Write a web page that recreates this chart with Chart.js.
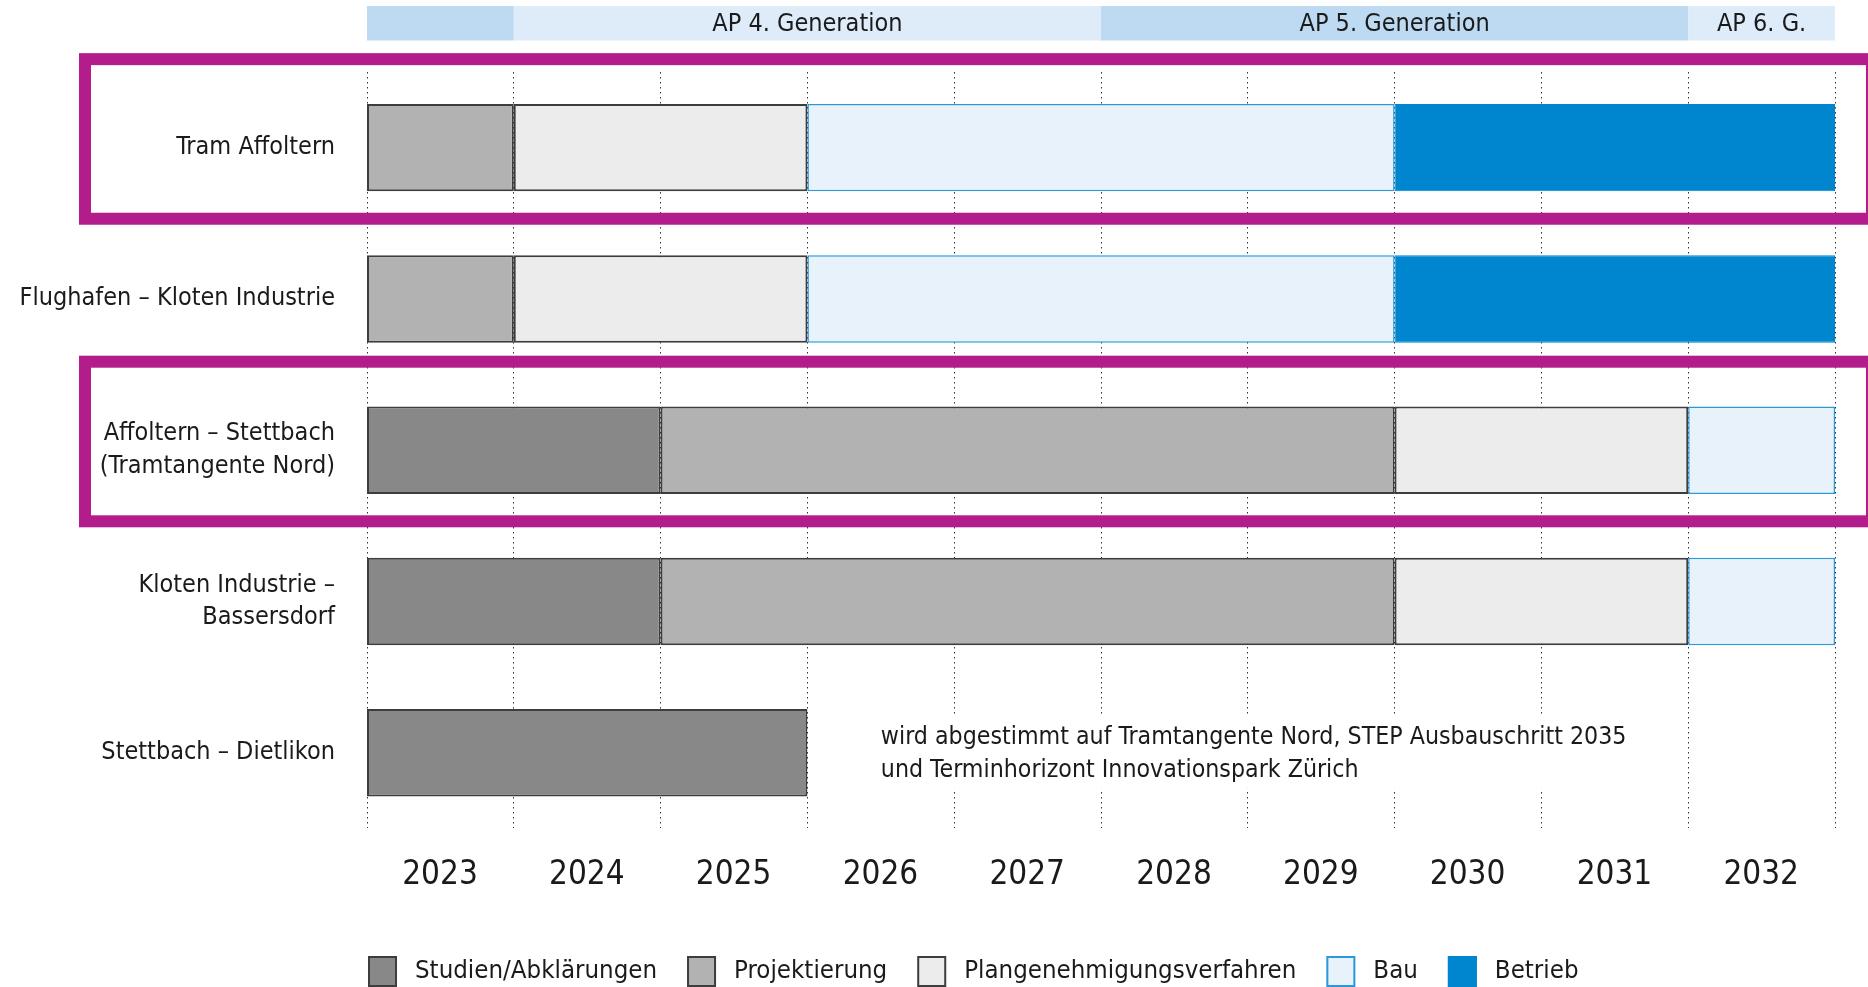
<!DOCTYPE html>
<html>
<head>
<meta charset="utf-8">
<script src="https://cdn.jsdelivr.net/npm/chart.js@4.4.1/dist/chart.umd.min.js"></script>
<style>
  html, body { margin: 0; padding: 0; background: #fff; }
  #chart { display: block; }
</style>
</head>
<body>
<canvas id="chart" width="1868" height="987"></canvas>
<script>
const FONT = '"Liberation Sans Narrow", "DejaVu Sans Condensed", "Open Sans", sans-serif';

// rows, top to bottom
const categories = [
  'Tram Affoltern',
  'Flughafen – Kloten Industrie',
  ['Affoltern – Stettbach', '(Tramtangente Nord)'],
  ['Kloten Industrie –', 'Bassersdorf'],
  'Stettbach – Dietlikon'
];

// [start year, end year] per row
const studien         = [null, null, [2023, 2025], [2023, 2025], [2023, 2026]];
const projektierung   = [[2023, 2024], [2023, 2024], [2025, 2030], [2025, 2030], null];
const plangenehmigung = [[2024, 2026], [2024, 2026], [2030, 2032], [2030, 2032], null];
const bau             = [[2026, 2030], [2026, 2030], [2032, 2033], [2032, 2033], null];
const betrieb         = [[2030, 2033], [2030, 2033], null, null, null];

const phaseLabels = ['Studien/Abklärungen', 'Projektierung', 'Plangenehmigungsverfahren', 'Bau', 'Betrieb'];
const yearLabels = ['2023', '2024', '2025', '2026', '2027', '2028', '2029', '2030', '2031', '2032'];

// Agglomerationsprogramm band on top
const apLabels = ['', 'AP 4. Generation', 'AP 5. Generation', 'AP 6. G.'];
const apStart = [2023, 2024, 2028, 2032];
const apEnd = [2024, 2028, 2032, 2033];

const highlighted = [0, 2];

const noteLines = ['wird abgestimmt auf Tramtangente Nord, STEP Ausbauschritt 2035', 'und Terminhorizont Innovationspark Zürich'];
const noteRow = 4;
const noteYear = 2026.5;

const apBand = {
  id: 'apBand',
  beforeDraw(chart) {
    const ctx = chart.ctx, x = chart.scales.x;
    ctx.save();
    apStart.forEach((s, i) => {
      const x0 = x.getPixelForValue(s), x1 = x.getPixelForValue(apEnd[i]);
      ctx.fillStyle = i % 2 ? '#deecf9' : '#bddaf2';
      ctx.fillRect(x0, 6, x1 - x0, 34.5);
      if (apLabels[i]) {
        ctx.fillStyle = '#1a1a1a';
        ctx.font = '25px ' + FONT;
        ctx.textAlign = 'center';
        ctx.textBaseline = 'middle';
        ctx.fillText(apLabels[i], (x0 + x1) / 2, 24);
      }
    });
    ctx.restore();
  }
};

const extras = {
  id: 'extras',
  afterDatasetsDraw(chart) {
    const ctx = chart.ctx, x = chart.scales.x, y = chart.scales.y;
    ctx.save();

    // note with white backing over the grid
    ctx.font = '24.7px ' + FONT;
    const tx = x.getPixelForValue(noteYear), ty = y.getPixelForValue(noteRow);
    const w = Math.max(...noteLines.map(t => ctx.measureText(t).width));
    ctx.fillStyle = '#fff';
    ctx.fillRect(tx - 15, ty - 38, w + 30, 74);
    ctx.fillStyle = '#1a1a1a';
    ctx.textAlign = 'left';
    ctx.textBaseline = 'middle';
    ctx.fillText(noteLines[0], tx, ty - 15);
    ctx.fillText(noteLines[1], tx, ty + 18);

    // magenta frames
    const step = y.getPixelForValue(1) - y.getPixelForValue(0);
    ctx.strokeStyle = '#b31d8b';
    ctx.lineWidth = 12;
    highlighted.forEach(i => {
      const c = y.getPixelForValue(i);
      const top = c - 0.585 * step, bottom = c + 0.47 * step;
      ctx.strokeRect(85, top, chart.width - 85 + 4, bottom - top);
    });
    ctx.restore();
  },
  afterDraw(chart) {
    // legend
    const ctx = chart.ctx;
    ctx.save();
    ctx.font = '25.6px ' + FONT;
    ctx.textBaseline = 'middle';
    ctx.textAlign = 'left';
    let cx = chart.chartArea.left + 1;
    const cy = 971;
    chart.data.datasets.forEach(ds => {
      ctx.fillStyle = ds.backgroundColor;
      ctx.fillRect(cx, cy - 15, 29, 31);
      ctx.strokeStyle = ds.borderColor;
      ctx.lineWidth = 2;
      ctx.strokeRect(cx + 1, cy - 14, 27, 29);
      ctx.fillStyle = '#1a1a1a';
      ctx.fillText(ds.label, cx + 47, cy);
      cx += 47 + ctx.measureText(ds.label).width + 30;
    });
    ctx.restore();
  }
};

function phase(label, data, fill, border, bw) {
  return {
    label: label,
    data: data,
    backgroundColor: fill,
    borderColor: border,
    borderWidth: bw,
    borderSkipped: false
  };
}

const chart = new Chart(document.getElementById('chart'), {
  type: 'bar',
  data: {
    labels: categories,
    datasets: [
      phase(phaseLabels[0], studien, '#888888', '#3d3d3d', 2),
      phase(phaseLabels[1], projektierung, '#b2b2b2', '#3d3d3d', 2),
      phase(phaseLabels[2], plangenehmigung, '#ececec', '#3d3d3d', 2),
      phase(phaseLabels[3], bau, '#e8f2fb', '#2a98d9', 1.5),
      phase(phaseLabels[4], betrieb, '#0086cf', '#0086cf', 1)
    ]
  },
  options: {
    indexAxis: 'y',
    responsive: false,
    animation: false,
    datasets: {
      bar: { grouped: false, categoryPercentage: 1, barPercentage: 0.578 }
    },
    layout: { padding: { top: 72, right: 33, left: 0, bottom: 65 } },
    plugins: {
      legend: { display: false },
      tooltip: { enabled: false }
    },
    scales: {
      x: {
        type: 'linear',
        min: 2023,
        max: 2033,
        grid: { color: '#333', lineWidth: 1, drawTicks: false },
        border: { display: false, dash: [1.5, 3.5] },
        ticks: {
          stepSize: 1,
          padding: 27,
          labelOffset: 73,
          color: '#1a1a1a',
          font: { family: FONT, size: 33 },
          callback: v => yearLabels[v - 2023] || ''
        }
      },
      y: {
        grid: { display: false, drawTicks: false },
        border: { display: false },
        afterFit: scale => { scale.width = 367; },
        ticks: {
          padding: 32,
          color: '#1a1a1a',
          font: { family: FONT, size: 25, lineHeight: 1.3 }
        }
      }
    }
  },
  plugins: [apBand, extras]
});
</script>
</body>
</html>
